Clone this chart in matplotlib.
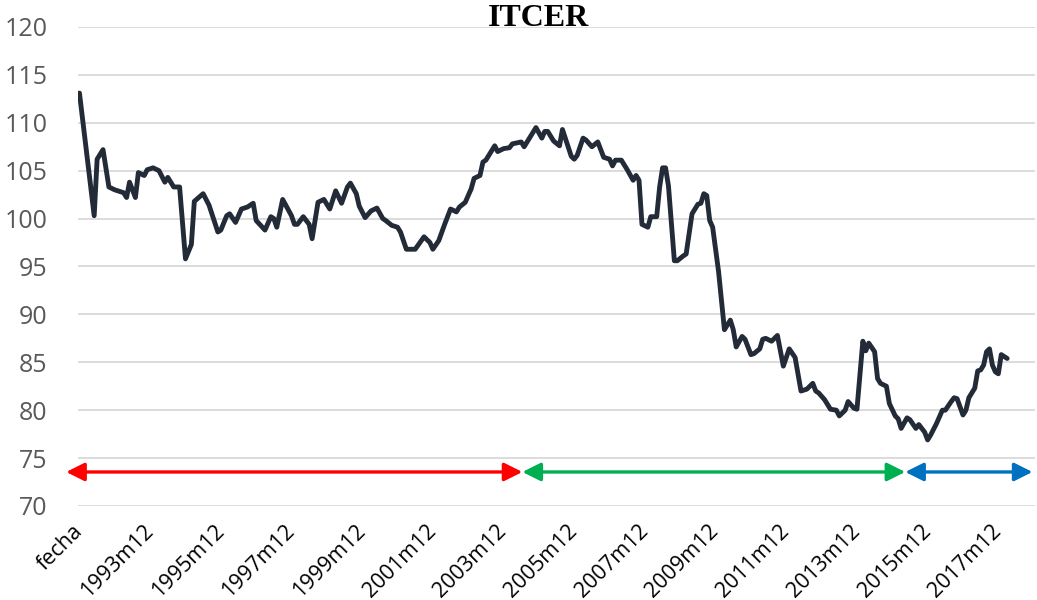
import matplotlib
matplotlib.use("Agg")
import matplotlib.pyplot as plt

# ---- data (month index, ITCER value) ----
month_idx = [0, 5, 6, 8, 10, 12, 15, 16, 17, 19, 20, 22, 23, 25, 27, 29, 30, 32, 34, 36,
             38, 39, 42, 44, 47, 48, 50, 51, 53, 55, 57, 59, 60, 63, 65, 66, 67, 69, 72, 73,
             74, 76, 78, 79, 81, 83, 85, 87, 89, 91, 92, 94, 95, 97, 99, 101, 103, 104, 106, 108,
             109, 111, 112, 114, 117, 119, 120, 122, 124, 126, 128, 129, 131, 133, 134, 136, 137, 138, 141, 142,
             144, 146, 147, 150, 151, 153, 155, 157, 158, 159, 161, 163, 164, 167, 168, 169, 171, 172, 174, 176,
             178, 180, 181, 182, 184, 186, 188, 189, 190, 191, 193, 194, 196, 197, 198, 199, 200, 202, 203, 205,
             206, 208, 210, 211, 212, 213, 214, 215, 217, 218, 219, 221, 222, 223, 225, 226, 228, 229, 231, 232,
             233, 235, 237, 239, 241, 243, 245, 247, 249, 250, 251, 253, 255, 257, 258, 260, 261, 263, 264, 266,
             267, 268, 270, 271, 272, 274, 275, 277, 278, 279, 281, 282, 284, 285, 287, 288, 289, 291, 292, 293,
             294, 296, 297, 298, 300, 301, 302, 304, 305, 306, 307, 308, 309, 310, 311, 312, 313, 315]
itcer = [113.1, 100.3, 106.2, 107.2, 103.3, 103.0, 102.7, 102.2, 103.8, 102.2, 104.8, 104.5, 105.1, 105.3, 105.0, 103.8, 104.3, 103.3, 103.3, 95.8,
         97.3, 101.8, 102.6, 101.4, 98.6, 98.8, 100.3, 100.5, 99.6, 101.0, 101.2, 101.6, 99.8, 98.8, 100.2, 100.0, 99.1, 102.0, 100.3, 99.4,
         99.4, 100.2, 99.4, 97.9, 101.7, 102.0, 101.0, 102.9, 101.6, 103.3, 103.7, 102.6, 101.3, 100.1, 100.8, 101.1, 100.0, 99.8, 99.3, 99.1,
         98.6, 96.8, 96.8, 96.8, 98.1, 97.5, 96.8, 97.7, 99.4, 101.0, 100.7, 101.2, 101.7, 103.1, 104.2, 104.5, 105.9, 106.1, 107.6, 107.0,
         107.3, 107.4, 107.8, 108.0, 107.5, 108.5, 109.5, 108.4, 109.1, 109.1, 108.1, 107.6, 109.3, 106.5, 106.2, 106.6, 108.4, 108.2, 107.5, 108.0,
         106.4, 106.2, 105.5, 106.1, 106.1, 105.1, 104.0, 104.5, 104.0, 99.4, 99.1, 100.2, 100.2, 103.3, 105.3, 105.3, 103.4, 95.6, 95.6, 96.1,
         96.3, 100.5, 101.5, 101.6, 102.6, 102.4, 99.8, 99.1, 94.5, 91.4, 88.4, 89.4, 88.4, 86.6, 87.7, 87.4, 85.8, 85.9, 86.4, 87.4,
         87.5, 87.2, 87.8, 84.6, 86.4, 85.5, 82.0, 82.2, 82.8, 82.0, 81.8, 81.1, 80.1, 80.0, 79.4, 80.0, 80.9, 80.2, 80.1, 87.2,
         86.2, 87.0, 86.1, 83.3, 82.8, 82.5, 80.7, 79.4, 79.1, 78.1, 79.2, 79.0, 78.1, 78.5, 77.7, 76.9, 77.4, 78.6, 79.3, 80.0,
         80.0, 80.9, 81.3, 81.2, 79.5, 80.0, 81.3, 82.3, 84.1, 84.2, 84.7, 86.1, 86.4, 84.7, 84.0, 83.8, 85.8, 85.4]

tick_pos = [0, 24, 48, 72, 96, 120, 144, 168, 192, 216, 240, 264, 288, 312]
tick_labels = ["fecha", "1993m12", "1995m12", "1997m12", "1999m12", "2001m12", "2003m12",
               "2005m12", "2007m12", "2009m12", "2011m12", "2013m12", "2015m12", "2017m12"]
y_ticks = [70, 75, 80, 85, 90, 95, 100, 105, 110, 115, 120]

# period arrows: (start month index, end month index, colour)
periods = [(-4.5, 150.4, "#FF0000"), (150.4, 280.4, "#00B050"), (280.4, 323.6, "#0070C0")]
arrow_level = 73.55

fig = plt.figure(figsize=(10.37, 6.0), dpi=100)
ax = fig.add_axes([0.0752, 0.1567, 0.923, 0.7983])

ax.plot(month_idx, itcer, color="#232B38", lw=3.5, solid_joinstyle="round", solid_capstyle="round", zorder=3)

ax.set_xlim(-0.5, 324.5)
ax.set_ylim(70, 120)
ax.set_yticks(y_ticks)
ax.set_xticks(tick_pos)
ax.set_xticklabels(tick_labels, rotation=45, ha="right", va="center", rotation_mode="anchor",
                   fontsize=15.5, color="black", family=["Open Sans", "DejaVu Sans"])
for lab in ax.get_yticklabels():
    lab.set_fontsize(18)
    lab.set_color("#595959")
    lab.set_family(["Open Sans", "DejaVu Sans"])
ax.tick_params(axis="both", length=0)
ax.tick_params(axis="x", pad=16)
ax.tick_params(axis="y", pad=22)
ax.grid(axis="y", color="#D9D9D9", lw=1.3, zorder=0)
for s in ax.spines.values():
    s.set_visible(False)

for start, end, col in periods:
    ax.annotate("", xy=(end, arrow_level), xytext=(start, arrow_level),
                arrowprops=dict(arrowstyle="<|-|>,head_length=1.1,head_width=0.55",
                                mutation_scale=10, lw=2.4, color=col,
                                shrinkA=0, shrinkB=0),
                annotation_clip=False, zorder=4)

fig.text(0.519, 0.97, "ITCER", ha="center", va="center", fontsize=23, fontweight="bold",
         family=["Liberation Serif", "DejaVu Serif"], color="black")

fig.savefig("out.png", dpi=100)
